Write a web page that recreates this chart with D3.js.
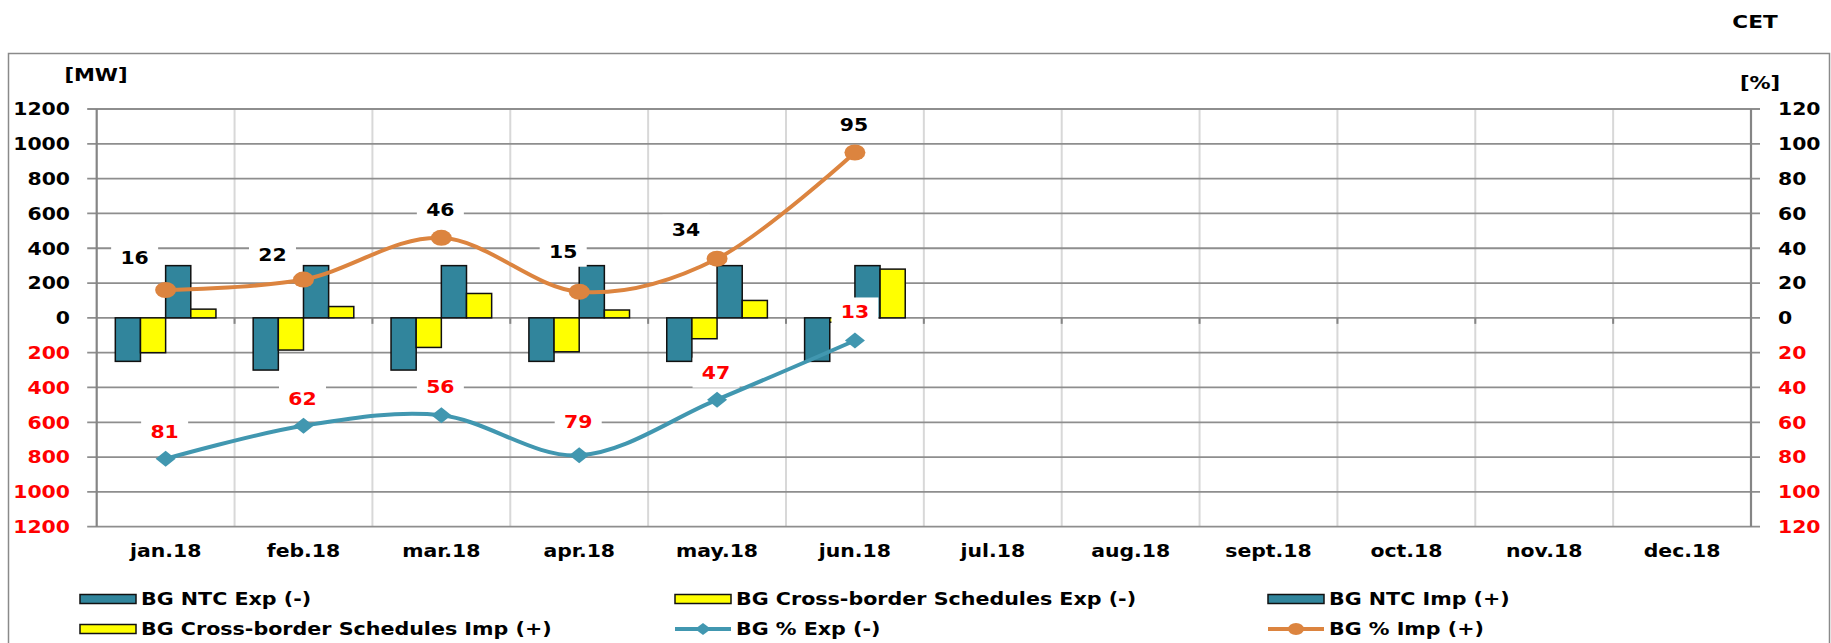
<!DOCTYPE html>
<html>
<head>
<meta charset="utf-8">
<script src="https://cdn.jsdelivr.net/npm/d3@7"></script>
<style>
  html, body { margin: 0; padding: 0; background: #fff; }
  svg text { font-family: "DejaVu Sans", Verdana, sans-serif; font-weight: bold; }
</style>
</head>
<body>
<svg id="chart" width="1831" height="643"></svg>
<script>
// ---- data (MW and %) ----
const months = ["jan.18", "feb.18", "mar.18", "apr.18", "may.18", "jun.18",
                "jul.18", "aug.18", "sept.18", "oct.18", "nov.18", "dec.18"];
const ntcExp   = [250, 300, 300, 250, 250, 250];
const schedExp = [200, 185, 170, 195, 120, 25];
const ntcImp   = [300, 300, 300, 300, 300, 300];
const schedImp = [50, 65, 140, 45, 100, 280];
const pctExp   = [81, 62, 56, 79, 47, 13];
const pctImp   = [16, 22, 46, 15, 34, 95];
const mwTicks  = [-1200, -1000, -800, -600, -400, -200, 0, 200, 400, 600, 800, 1000, 1200];
const pctTicks = [-120, -100, -80, -60, -40, -20, 0, 20, 40, 60, 80, 100, 120];
const legendNames = ["BG NTC Exp (-)", "BG Cross-border Schedules Exp (-)", "BG NTC Imp (+)",
                     "BG Cross-border Schedules Imp (+)", "BG % Exp (-)", "BG % Imp (+)"];

// ---- look ----
const TEAL = "#31859C", YELLOW = "#FFFF00", ORANGE = "#DC843F", LINE_TEAL = "#4197B0";
const RED = "#FF0000", GRID = "#8E8E8E", VGRID = "#D8D8D8", AXIS = "#858585";
const SX = 1.2;   // horizontal stretch used for all lettering

const svg = d3.select("#chart");
const plot = { left: 96.7, right: 1751, top: 109, bottom: 526.7 };

// text helper: places a string with a horizontal stretch about its anchor
function label(g, x, y, str, opts = {}) {
  return g.append("text")
    .attr("transform", `translate(${x},${y}) scale(${SX},1)`)
    .attr("text-anchor", opts.anchor || "middle")
    .attr("dominant-baseline", opts.baseline || "central")
    .attr("font-size", opts.size || 16)
    .attr("fill", opts.fill || "#000")
    .text(str);
}

// outer frame
svg.append("rect").attr("x", 8.5).attr("y", 53.5).attr("width", 1821).attr("height", 700)
  .attr("fill", "none").attr("stroke", "#8A8A8A").attr("stroke-width", 1.5);

label(svg, 1755, 22, "CET", { size: 18 });
label(svg, 96, 75, "[MW]", { size: 17.5 });
label(svg, 1760, 83, "[%]", { size: 17.5 });

// ---- scales ----
const x0 = d3.scaleBand().domain(months).range([plot.left, plot.right]).padding(0);
const barKeys = ["ntcExp", "schedExp", "ntcImp", "schedImp"];
const x1 = d3.scaleBand().domain(barKeys).range([0, x0.bandwidth()]).paddingInner(0).paddingOuter(0.74);
const y = d3.scaleLinear().domain([-1200, 1200]).range([plot.bottom, plot.top]);
const yR = d3.scaleLinear().domain([-120, 120]).range([plot.bottom, plot.top]);
const xc = m => x0(m) + x0.bandwidth() / 2;

// ---- grid ----
const grid = svg.append("g");
grid.selectAll("line.v").data(months.slice(1)).join("line")
  .attr("x1", m => x0(m)).attr("x2", m => x0(m))
  .attr("y1", plot.top).attr("y2", plot.bottom)
  .attr("stroke", VGRID).attr("stroke-width", 2);
grid.selectAll("line.h").data(mwTicks).join("line")
  .attr("x1", plot.left - 9.5).attr("x2", plot.right + 9)
  .attr("y1", d => y(d)).attr("y2", d => y(d))
  .attr("stroke", GRID).attr("stroke-width", 1.8);
// category ticks on the zero line
grid.selectAll("line.t").data(months.slice(1)).join("line")
  .attr("x1", m => x0(m)).attr("x2", m => x0(m))
  .attr("y1", y(0)).attr("y2", y(0) + 6)
  .attr("stroke", AXIS).attr("stroke-width", 2);
[plot.left, plot.right].forEach(px => {
  grid.append("line").attr("x1", px).attr("x2", px)
    .attr("y1", plot.top).attr("y2", plot.bottom)
    .attr("stroke", AXIS).attr("stroke-width", 2.2);
});

// ---- axes (labels only) ----
const leftAxis = d3.axisLeft(y).tickValues(mwTicks).tickSize(0).tickPadding(0)
  .tickFormat(d => Math.abs(d));
const gL = svg.append("g").attr("transform", `translate(70,0)`).call(leftAxis);
const rightAxis = d3.axisRight(yR).tickValues(pctTicks).tickSize(0).tickPadding(0)
  .tickFormat(d => Math.abs(d));
const gR = svg.append("g").attr("transform", `translate(1778,0)`).call(rightAxis);
[gL, gR].forEach(g => {
  g.select(".domain").remove();
  g.selectAll(".tick text")
    .attr("font-size", 17)
    .attr("font-family", null)
    .attr("fill", d => d < 0 ? RED : "#000")
    .attr("dy", null).attr("x", null)
    .attr("dominant-baseline", "central")
    .attr("transform", `scale(${SX},1)`);
});

const xAxis = d3.axisBottom(x0).tickSize(0).tickPadding(0);
const gX = svg.append("g").attr("transform", `translate(0,551)`).call(xAxis);
gX.select(".domain").remove();
gX.selectAll(".tick text")
  .attr("font-size", 17).attr("font-family", null).attr("fill", "#000")
  .attr("dy", null).attr("y", null)
  .attr("dominant-baseline", "central")
  .attr("transform", `scale(${SX},1)`);

// ---- bars ----
const barDefs = [
  { key: "ntcExp", vals: ntcExp, sign: -1, fill: TEAL },
  { key: "schedExp", vals: schedExp, sign: -1, fill: YELLOW },
  { key: "ntcImp", vals: ntcImp, sign: 1, fill: TEAL },
  { key: "schedImp", vals: schedImp, sign: 1, fill: YELLOW }
];
const bars = svg.append("g");
barDefs.forEach(s => {
  bars.selectAll(null).data(s.vals).join("rect")
    .attr("x", (v, i) => x0(months[i]) + x1(s.key))
    .attr("width", x1.bandwidth())
    .attr("y", v => Math.min(y(0), y(s.sign * v)))
    .attr("height", v => Math.abs(y(s.sign * v) - y(0)))
    .attr("fill", s.fill).attr("stroke", "#111").attr("stroke-width", 1.5);
});

// ---- percentage lines ----
const curve = d3.curveCardinal.tension(0);
const expPts = pctExp.map((v, i) => [xc(months[i]), yR(-v)]);
const impPts = pctImp.map((v, i) => [xc(months[i]), yR(v)]);
svg.append("path").attr("d", d3.line().curve(curve)(expPts))
  .attr("fill", "none").attr("stroke", LINE_TEAL).attr("stroke-width", 4);
svg.append("path").attr("d", d3.line().curve(curve)(impPts))
  .attr("fill", "none").attr("stroke", ORANGE).attr("stroke-width", 4);

const diamond = (w, h) => `M0,${-h}L${w},0L0,${h}L${-w},0Z`;
svg.selectAll("path.dia").data(expPts).join("path")
  .attr("transform", p => `translate(${p[0]},${p[1]})`)
  .attr("d", diamond(10, 8)).attr("fill", LINE_TEAL);
svg.selectAll("ellipse.dot").data(impPts).join("ellipse")
  .attr("cx", p => p[0]).attr("cy", p => p[1])
  .attr("rx", 10.5).attr("ry", 8).attr("fill", ORANGE);

// ---- value labels on white boxes ----
const nudgeImp = [[-31, -32], [-31, -24], [-1, -28], [-16, -40], [-31, -29], [-1, -27]];
const nudgeExp = [[-1, -27], [-1, -27], [-1, -28], [-1, -33], [-1, -27], [0, -28]];
const labels = svg.append("g");
function valueLabel(p, n, v, color) {
  const cx = p[0] + n[0], cy = p[1] + n[1];
  labels.append("rect").attr("x", cx - 23.5).attr("y", cy - 15).attr("width", 47).attr("height", 30)
    .attr("fill", "#fff");
  label(labels, cx, cy, String(v), { size: 17, fill: color });
}
impPts.forEach((p, i) => valueLabel(p, nudgeImp[i], pctImp[i], "#000"));
expPts.forEach((p, i) => valueLabel(p, nudgeExp[i], pctExp[i], RED));

// ---- legend ----
const leg = svg.append("g");
const legCols = [80, 675, 1268];
const legRows = [599, 629];
const legKinds = ["bar", "bar", "bar", "bar", "line", "line"];
const legFills = [TEAL, YELLOW, TEAL, YELLOW, LINE_TEAL, ORANGE];
legendNames.forEach((name, i) => {
  const cx = legCols[i % 3], cy = legRows[Math.floor(i / 3)];
  if (legKinds[i] === "bar") {
    leg.append("rect").attr("x", cx).attr("y", cy - 4.5).attr("width", 56).attr("height", 9)
      .attr("fill", legFills[i]).attr("stroke", "#111").attr("stroke-width", 1.5);
  } else {
    leg.append("line").attr("x1", cx).attr("x2", cx + 56).attr("y1", cy).attr("y2", cy)
      .attr("stroke", legFills[i]).attr("stroke-width", 4);
    if (i === 4) {
      leg.append("path").attr("transform", `translate(${cx + 28},${cy})`)
        .attr("d", diamond(8, 6)).attr("fill", legFills[i]);
    } else {
      leg.append("ellipse").attr("cx", cx + 28).attr("cy", cy).attr("rx", 8).attr("ry", 6)
        .attr("fill", legFills[i]);
    }
  }
  label(leg, cx + 61, cy, name, { anchor: "start", size: 17.2 });
});
</script>
</body>
</html>
